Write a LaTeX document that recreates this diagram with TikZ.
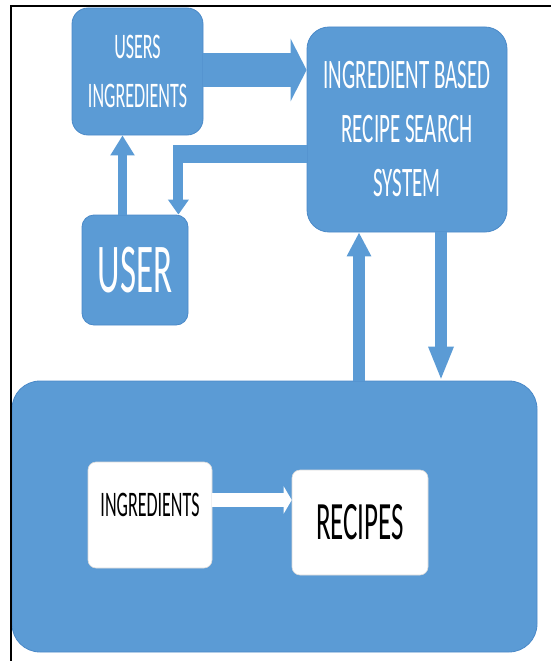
\documentclass[tikz,border=0pt]{standalone}
\usepackage{fontspec}
\setmainfont{Carlito}
\newfontfamily\condfont[FakeStretch=0.5]{Carlito}
\usetikzlibrary{arrows.meta,calc}
\definecolor{boxblue}{HTML}{5B9BD5}
\definecolor{edgeblue}{HTML}{4A89C8}
\begin{document}
\begin{tikzpicture}[x=1pt,y=-1pt,
  bluebox/.style={draw=edgeblue,line width=0.8pt,fill=boxblue,text=white,align=center,inner sep=0pt},
  whitebox/.style={draw=white!85!black,line width=0.6pt,fill=white,text=black,align=center,inner sep=0pt,rounded corners=8pt},
  flowarrow/.style={color=boxblue,line cap=butt},
  whitearrow/.style={color=white,line cap=butt},
  framestyle/.style={draw=black,line width=2pt}
]
\useasboundingbox (0,0) rectangle (551,661);

% boxes
\node[bluebox, rounded corners=28pt, minimum width=525pt, minimum height=271pt] (db) at (274.5,516.5) {};
\node[bluebox, rounded corners=16pt, minimum width=131pt, minimum height=127pt,
      font=\condfont\fontsize{36}{49}\selectfont] (ui) at (137.5,71.5) {USERS\\INGREDIENTS};
\node[bluebox, rounded corners=22pt, minimum width=200pt, minimum height=205pt,
      font=\condfont\fontsize{42}{54}\selectfont] (sys) at (407,129.5) {INGREDIENT BASED\\RECIPE SEARCH\\SYSTEM};
\node[bluebox, rounded corners=12pt, minimum width=106pt, minimum height=110pt,
      font=\condfont\fontsize{70}{84}\selectfont] (user) at (135,270) {USER};
\node[whitebox, minimum width=124pt, minimum height=106pt, text depth=20pt,
      font=\condfont\fontsize{36}{43}\selectfont] (ing) at (150,515) {INGREDIENTS};
\node[whitebox, minimum width=136pt, minimum height=105pt,
      font=\condfont\fontsize{54}{60}\selectfont] (rec) at (360,522.5) {RECIPES};

% users ingredients -> system
\coordinate (uiA) at ($(ui.east)+(0,-1.5)$);
\draw[flowarrow, line width=34pt, -{Triangle[width=62pt,length=16pt]}] (uiA) -- (uiA -| sys.west);

% system -> user (bent)
\coordinate (retA) at ($(sys.west)+(0,24.5)$);
\coordinate (retB) at ($(user.north east)+(-10,0)$);
\draw[flowarrow, line width=18pt] (retA) -- ($(retB |- retA)+(-5,0)$);
\draw[flowarrow, line width=10pt, -{Triangle[width=20pt,length=15pt]}] ($(retB |- retA)+(0,-9)$) -- (retB);

% user -> users ingredients
\coordinate (uA) at ($(user.north)+(-12.5,0)$);
\draw[flowarrow, line width=9pt, -{Triangle[width=23pt,length=20pt]}] (uA) -- (uA |- ui.south);

% bottom -> system
\coordinate (dA) at ($(sys.south)+(-48,0)$);
\draw[flowarrow, line width=12pt, -{Triangle[width=23pt,length=24pt]}] (dA |- db.north) -- (dA);

% system -> bottom
\coordinate (dB) at ($(sys.south)+(34,0)$);
\draw[flowarrow, line width=12pt, -{Triangle[width=23pt,length=34pt]}] (dB) -- (dB |- db.north);

% ingredients -> recipes
\coordinate (iA) at ($(ing.east)+(0,-15)$);
\draw[whitearrow, line width=14pt, -{Triangle[width=27pt,length=8pt]}] (iA) -- (iA -| rec.west);

% frame
\draw[framestyle] (551,6) -- (11,6) -- (11,661);
\end{tikzpicture}
\end{document}
